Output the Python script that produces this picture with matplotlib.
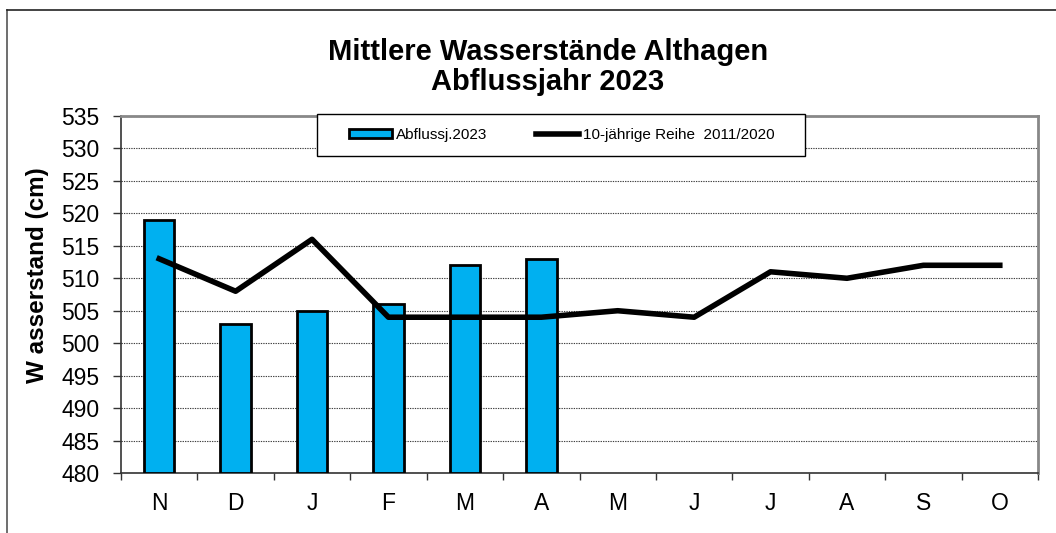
import matplotlib
matplotlib.use("Agg")
import matplotlib.pyplot as plt
from matplotlib.lines import Line2D
from matplotlib.patches import Rectangle
import numpy as np

months = ["N", "D", "J", "F", "M", "A", "M", "J", "J", "A", "S", "O"]
bar_values = [519, 503, 505, 506, 512, 513]
line_values = [513, 508, 516, 504, 504, 504, 505, 504, 511, 510, 512, 512]
yticks = [480, 485, 490, 495, 500, 505, 510, 515, 520, 525, 530, 535]

plt.rcParams['font.family'] = ['Liberation Sans', 'DejaVu Sans']

W, H = 1056, 533
fig = plt.figure(figsize=(W/100, H/100), dpi=100)
ax = fig.add_axes([121/W, 1 - 473/H, (1038-121)/W, (473-116)/H])

x = np.arange(len(months))
bars = ax.bar(x[:len(bar_values)], np.array(bar_values) - 480, bottom=480, width=0.4,
              color="#00B0F0", edgecolor="black", linewidth=2, zorder=3)
line, = ax.plot(x, line_values, color="black", linewidth=4, zorder=4)

ax.set_ylim(480, 535)
ax.set_xlim(-0.5, 11.5)
ax.set_yticks(yticks)
ax.set_yticklabels([str(v) for v in yticks], fontsize=16.5)
ax.yaxis.grid(True, linestyle=(0, (1.2, 1)), color="#404040", linewidth=0.8, zorder=0)

ax.set_xticks(np.arange(-0.5, 12, 1))
ax.set_xticklabels([])
ax.set_xticks(x, minor=True)
ax.set_xticklabels(months, minor=True, fontsize=16.5)
ax.tick_params(axis="x", which="major", length=5, width=1, direction="out", color="#333333")
ax.tick_params(axis="x", which="minor", length=0, pad=13.5)
ax.tick_params(axis="y", length=5.5, width=1, direction="out", pad=10, color="#333333")

for s in ["left", "bottom"]:
    ax.spines[s].set_color("#333333")
    ax.spines[s].set_linewidth(1.2)
for s in ["top", "right"]:
    ax.spines[s].set_color("#888888")
    ax.spines[s].set_linewidth(2)

fig.text(38/W, 1 - 275/H, "W asserstand (cm)", rotation=90, ha="center", va="center",
         fontsize=17.5, fontweight="bold")

fig.text(548/W, 1 - 52/H, "Mittlere Wasserstände Althagen", ha="center", va="center",
         fontsize=21, fontweight="bold")
fig.text(548/W, 1 - 82/H, "Abflussjahr 2023", ha="center", va="center",
         fontsize=21, fontweight="bold")

# legend box
fig.add_artist(Rectangle((317/W, 1 - 156/H), (805-317)/W, (156-114)/H, transform=fig.transFigure,
                         facecolor="white", edgecolor="black", linewidth=1, zorder=9))
leg = fig.legend([bars, line], ["Abflussj.2023", "10-jährige Reihe  2011/2020"],
                 loc="center", bbox_to_anchor=(562/W, 1 - 135/H), ncol=2, frameon=False,
                 fontsize=11, handlelength=2.8, handleheight=0.55, handletextpad=0.25,
                 columnspacing=3.2)
leg.set_zorder(10)

# figure border (partially cropped)
fig.add_artist(Line2D([7/W, 7/W], [0, 1 - 10/H], color="#555555", linewidth=1.2,
                      transform=fig.transFigure))
fig.add_artist(Line2D([7/W, 1], [1 - 10/H, 1 - 10/H], color="#222222", linewidth=1.2,
                      transform=fig.transFigure))

fig.savefig("out.png", dpi=100)
